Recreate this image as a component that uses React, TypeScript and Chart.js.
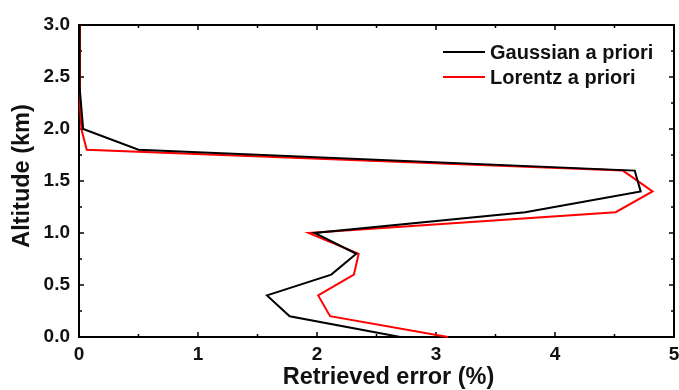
import React, { useEffect, useRef } from "react";
import { Chart, registerables } from "chart.js";

Chart.register(...registerables);

const altitudes = [0, 0.2, 0.4, 0.6, 0.8, 1.0, 1.2, 1.4, 1.6, 1.8, 2.0, 2.2, 2.4, 2.6, 2.8, 3.0];
const gaussianError = [2.7, 1.77, 1.58, 2.12, 2.33, 1.98, 3.75, 4.72, 4.67, 0.5, 0.035, 0.02, 0.005, 0.005, 0.005, 0.005];
const lorentzError = [3.1, 2.11, 2.01, 2.31, 2.35, 1.93, 4.51, 4.82, 4.57, 0.065, 0.02, 0.01, 0.008, 0.008, 0.008, 0.008];
const seriesLabels = ["Gaussian a priori", "Lorentz a priori"];
const seriesColors = ["#000000", "#ff0000"];
const xTitle = "Retrieved error (%)";
const yTitle = "Altitude (km)";

const FONT = "'Liberation Sans', Arial, sans-serif";
const TEXT = "#111111";

const framePlugin = {
  id: "frameTicks",
  beforeDatasetsDraw(chart: any) {
    const { ctx, chartArea, scales } = chart;
    const { left, right, top, bottom } = chartArea;
    const xs = scales.x;
    const ys = scales.y;
    ctx.save();
    ctx.strokeStyle = "#000";
    ctx.lineWidth = 2;
    ctx.strokeRect(left, top, right - left, bottom - top);
    ctx.lineWidth = 1.5;
    const seg = (x1: number, y1: number, x2: number, y2: number) => {
      ctx.beginPath();
      ctx.moveTo(x1, y1);
      ctx.lineTo(x2, y2);
      ctx.stroke();
    };
    const xt = xs.ticks.map((t: any) => t.value);
    xt.forEach((v: number, i: number) => {
      const px = xs.getPixelForValue(v);
      seg(px, bottom, px, bottom - 5);
      seg(px, top, px, top + 5);
      if (i < xt.length - 1) {
        const pm = xs.getPixelForValue((v + xt[i + 1]) / 2);
        seg(pm, bottom, pm, bottom - 3);
        seg(pm, top, pm, top + 3);
      }
    });
    const yt = ys.ticks.map((t: any) => t.value);
    yt.forEach((v: number, i: number) => {
      const py = ys.getPixelForValue(v);
      seg(left, py, left + 5, py);
      seg(right, py, right - 5, py);
      if (i < yt.length - 1) {
        const pm = ys.getPixelForValue((v + yt[i + 1]) / 2);
        seg(left, pm, left + 3, pm);
        seg(right, pm, right - 3, pm);
      }
    });
    ctx.restore();
  },
  afterDraw(chart: any) {
    const { ctx, chartArea } = chart;
    const { left, right, top, bottom } = chartArea;
    ctx.save();
    // legend
    ctx.font = `bold 20px ${FONT}`;
    ctx.textBaseline = "middle";
    ctx.textAlign = "left";
    chart.data.datasets.forEach((ds: any, i: number) => {
      const y = top + 27 + i * 25;
      ctx.strokeStyle = ds.borderColor;
      ctx.lineWidth = 2;
      ctx.beginPath();
      ctx.moveTo(right - 231, y);
      ctx.lineTo(right - 189, y);
      ctx.stroke();
      ctx.fillStyle = TEXT;
      ctx.fillText(ds.label, right - 184, y + 1);
    });
    // axis titles
    ctx.fillStyle = TEXT;
    ctx.font = `bold 23.5px ${FONT}`;
    ctx.textAlign = "center";
    ctx.fillText(xTitle, (left + right) / 2 + 12, bottom + 41);
    ctx.translate(23, (top + bottom) / 2 - 5);
    ctx.rotate(-Math.PI / 2);
    ctx.fillText(yTitle, 0, 0);
    ctx.restore();
  },
};

export default function App() {
  const ref = useRef<HTMLCanvasElement | null>(null);
  useEffect(() => {
    if (!ref.current) return;
    const mk = (vals: number[]) => vals.map((v, i) => ({ x: v, y: altitudes[i] }));
    const chart = new Chart(ref.current, {
      type: "line",
      data: {
        datasets: [
          {
            label: seriesLabels[0],
            data: mk(gaussianError),
            borderColor: seriesColors[0],
            borderWidth: 2,
            pointRadius: 0,
            tension: 0,
            clip: false as any,
          },
          {
            label: seriesLabels[1],
            data: mk(lorentzError),
            borderColor: seriesColors[1],
            borderWidth: 2,
            pointRadius: 0,
            tension: 0,
            clip: false as any,
          },
        ],
      },
      options: {
        animation: false,
        responsive: true,
        maintainAspectRatio: false,
        layout: { padding: { left: 0, right: 5, top: 25, bottom: 0 } },
        plugins: { legend: { display: false }, tooltip: { enabled: false } },
        scales: {
          x: {
            type: "linear",
            min: 0,
            max: 5,
            grid: { display: false, drawTicks: false },
            border: { display: false },
            ticks: {
              stepSize: 1,
              padding: 6,
              color: TEXT,
              font: { family: FONT, size: 19, weight: "bold" },
              callback: (v: any) => String(v),
            },
            title: { display: false },
            afterFit: (s: any) => {
              s.height = 53;
              s.paddingLeft = 0;
              s.paddingRight = 0;
            },
          },
          y: {
            type: "linear",
            min: 0,
            max: 3,
            grid: { display: false, drawTicks: false },
            border: { display: false },
            ticks: {
              stepSize: 0.5,
              padding: 9,
              color: TEXT,
              font: { family: FONT, size: 19, weight: "bold" },
              callback: (v: any) => Number(v).toFixed(1),
            },
            title: { display: false },
            afterFit: (s: any) => {
              s.width = 79;
              s.paddingTop = 0;
              s.paddingBottom = 0;
            },
          },
        },
      },
      plugins: [framePlugin],
    });
    return () => chart.destroy();
  }, []);
  return (
    <div style={{ position: "absolute", left: 0, top: 0, width: 679, height: 390, background: "#fff" }}>
      <canvas ref={ref} />
    </div>
  );
}
